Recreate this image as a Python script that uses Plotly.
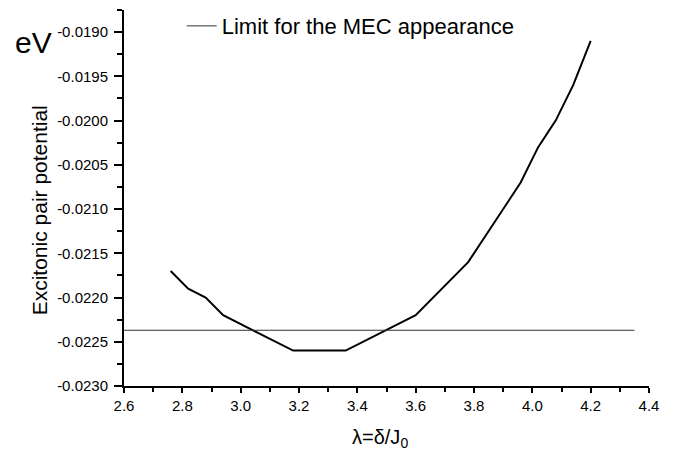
import plotly.graph_objects as go

# Data
lam = [2.76, 2.82, 2.88, 2.94, 3.18, 3.36, 3.60, 3.78, 3.96, 4.02, 4.08, 4.14, 4.20]
potential = [-0.0217, -0.0219, -0.0220, -0.0222, -0.0226, -0.0226, -0.0222,
             -0.0216, -0.0207, -0.0203, -0.0200, -0.0196, -0.0191]
limit_x = [2.6, 4.35]
limit_y = [-0.02237, -0.02237]

x_ticks = [2.6, 2.8, 3.0, 3.2, 3.4, 3.6, 3.8, 4.0, 4.2, 4.4]
x_ticktext = ["2.6", "2.8", "3.0", "3.2", "3.4", "3.6", "3.8", "4.0", "4.2", "4.4"]
y_ticks = [-0.0230, -0.0225, -0.0220, -0.0215, -0.0210, -0.0205, -0.0200, -0.0195, -0.0190]
y_ticktext = ["-0.0230", "-0.0225", "-0.0220", "-0.0215", "-0.0210", "-0.0205",
              "-0.0200", "-0.0195", "-0.0190"]

FONT = "Arial, 'Liberation Sans', Helvetica, sans-serif"

fig = go.Figure()
fig.add_trace(go.Scatter(x=lam, y=potential, mode="lines",
                         line=dict(color="black", width=2), showlegend=False))
fig.add_trace(go.Scatter(x=limit_x, y=limit_y, mode="lines",
                         line=dict(color="#333333", width=1),
                         name="Limit for the MEC appearance"))

fig.update_layout(
    width=683, height=457,
    margin=dict(l=124, r=34, t=5, b=71),
    paper_bgcolor="white", plot_bgcolor="white",
    font=dict(family=FONT, color="black", size=15),
    legend=dict(x=0.11, y=1.0 + 5 / 381, xanchor="left", yanchor="top",
                bgcolor="rgba(0,0,0,0)", font=dict(size=22, family=FONT),
                itemwidth=30),
    xaxis=dict(range=[2.6, 4.4], tickvals=x_ticks, ticktext=x_ticktext,
               showline=True, linecolor="black", linewidth=2,
               ticks="outside", ticklen=5, tickwidth=1.5, tickcolor="black",
               showgrid=False, zeroline=False,
               tickfont=dict(size=15),
               minor=dict(dtick=0.1, tick0=2.6, ticks="outside", ticklen=4,
                          tickwidth=1.5, tickcolor="black", showgrid=False)),
    yaxis=dict(range=[-0.0230, -0.01875], tickvals=y_ticks, ticktext=y_ticktext,
               showline=True, linecolor="black", linewidth=2,
               ticks="outside", ticklen=8, tickwidth=1.5, tickcolor="black",
               showgrid=False, zeroline=False, ticklabelstandoff=3,
               tickfont=dict(size=15),
               minor=dict(dtick=0.00025, tick0=-0.0230, ticks="outside", ticklen=5,
                          tickwidth=1.5, tickcolor="black", showgrid=False)),
)

fig.add_annotation(text="Excitonic pair potential", xref="paper", yref="paper",
                   x=-(124 - 39) / 525, y=(386 - 208) / 381, textangle=-90,
                   showarrow=False, font=dict(size=21, family=FONT),
                   xanchor="center", yanchor="middle")
fig.add_annotation(text="eV", xref="paper", yref="paper",
                   x=-(124 - 33) / 525, y=(386 - 38) / 381,
                   showarrow=False, font=dict(size=30, family=FONT),
                   xanchor="center", yanchor="middle")
fig.add_annotation(text="λ=δ/J<sub>0</sub>", xref="paper", yref="paper",
                   x=(380 - 124) / 525, y=-(439 - 386) / 381,
                   showarrow=False, font=dict(size=20, family=FONT),
                   xanchor="center", yanchor="middle")

fig.write_html("out.html", config={"displayModeBar": False},
               post_script="document.body.style.margin='0';document.body.style.overflow='hidden';")
